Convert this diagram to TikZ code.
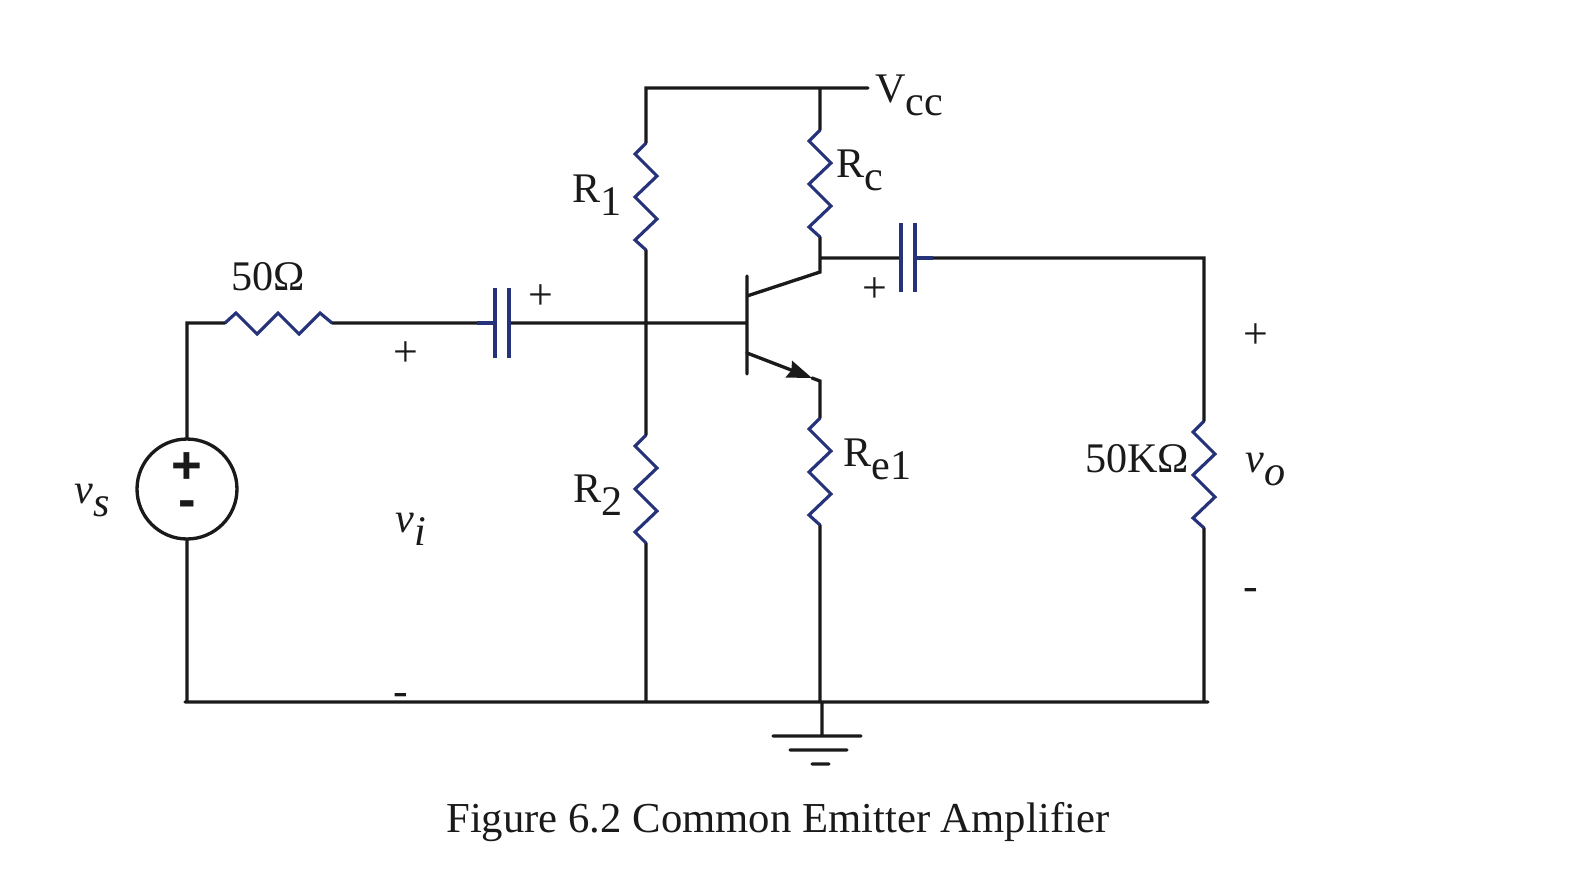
\documentclass[tikz,border=0pt]{standalone}
\usepackage{fontspec}
\setmainfont{Liberation Serif}
\newfontfamily\srcfont{Liberation Sans}
\usetikzlibrary{arrows.meta}
\definecolor{resblue}{RGB}{38,50,122}
\definecolor{inkblack}{RGB}{26,26,26}
\newcommand{\lowsub}[1]{\raisebox{-7.8pt}{#1}}
\tikzset{
	wire/.style={draw=inkblack, line width=1.9pt, line cap=round},
	plate/.style={draw=resblue, line width=1.8pt},
	resv/.style={draw=resblue, line width=1.8pt,
		to path={-- ++(-11,11) -- ++(22,22) -- ++(-22,21) -- ++(22,22) -- ++(-22,21) -- (\tikztotarget)}},
	resh/.style={draw=resblue, line width=1.8pt,
		to path={-- ++(11,-10) -- ++(21,21) -- ++(21,-21) -- ++(21,21) -- ++(21,-21) -- (\tikztotarget)}},
	label/.style={anchor=base west, inner sep=0pt, text=inkblack, font=\fontsize{24}{28}\selectfont},
	caption/.style={label, font=\fontsize{24.3}{28}\selectfont},
	sign/.style={inner sep=0pt, text=inkblack, font=\fontsize{25}{28}\selectfont},
	srcsign/.style={inner sep=0pt, text=inkblack, font=\srcfont\bfseries\fontsize{30}{34}\selectfont},
	source/.style={circle, draw=inkblack, line width=1.9pt, minimum size=2cm, inner sep=0pt}}
\begin{document}
\begin{tikzpicture}[x=0.02cm, y=-0.02cm]
		\useasboundingbox (0,0) rectangle (1586,894);
		
		%source side
		\node[source] (vsrc) at (187,489) {};
		\node[srcsign] (vplus) at (187,468) {+};
		\node[srcsign] (vminus) at (187,509) {-};
		\coordinate (tl) at (187,323);
		\coordinate (rs1) at (225,323);
		\coordinate (rs2) at (332,323);
		\coordinate (c1a) at (495,323);
		\coordinate (c1b) at (509,323);
		\coordinate (c1at) at (495,288);
		\coordinate (c1ab) at (495,358);
		\coordinate (c1bt) at (509,288);
		\coordinate (c1bb) at (509,358);
		\coordinate (c1lead) at (477,323);
		
		%bias
		\coordinate (tr1) at (646,88);
		\coordinate (tvcc) at (868,88);
		\coordinate (trc) at (820,88);
		\coordinate (r1a) at (646,143);
		\coordinate (r1b) at (646,250);
		\coordinate (r2a) at (646,435);
		\coordinate (r2b) at (646,543);
		\coordinate (b2) at (646,702);
		
		%transistor
		\coordinate (base) at (747,323);
		\coordinate (bart) at (747,276);
		\coordinate (barb) at (747,374);
		\coordinate (coli) at (747,296);
		\coordinate (colo) at (820,272);
		\coordinate (emi) at (747,353);
		\coordinate (tip) at (812,378);
		\coordinate (emo) at (820,381);
		
		%collector and emitter
		\coordinate (rca) at (820,130);
		\coordinate (rcb) at (820,237);
		\coordinate (jc) at (820,258);
		\coordinate (rea) at (820,418);
		\coordinate (reb) at (820,525);
		\coordinate (b3) at (820,702);
		
		%output
		\coordinate (c2a) at (901,258);
		\coordinate (c2b) at (915,258);
		\coordinate (c2at) at (901,223);
		\coordinate (c2ab) at (901,292);
		\coordinate (c2bt) at (915,223);
		\coordinate (c2bb) at (915,292);
		\coordinate (c2lead) at (933,258);
		\coordinate (tro) at (1204,258);
		\coordinate (rla) at (1204,421);
		\coordinate (rlb) at (1204,528);
		\coordinate (b4) at (1204,702);
		\coordinate (bl) at (185,702);
		\coordinate (br) at (1208,702);
		\coordinate (b1) at (187,702);
		
		%ground
		\coordinate (g0) at (822,702);
		\coordinate (g1) at (822,736);
		\coordinate (g1l) at (773,736);
		\coordinate (g1r) at (861,736);
		\coordinate (g2l) at (790,750);
		\coordinate (g2r) at (847,750);
		\coordinate (g3l) at (812,764);
		\coordinate (g3r) at (829,764);
		
		\draw[wire]
		(vsrc.north) -- (tl) -- (rs1)
		(rs2) -- (c1lead)
		(c1b) -- (base)
		(vsrc.south) -- (b1)
		(bl) -- (br)
		(tvcc) -- (tr1) -- (r1a)
		(r1b) -- (r2a)
		(r2b) -- (b2)
		(trc) -- (rca)
		(rcb) -- (colo) -- (coli)
		(bart) -- (barb)
		(jc) -- (c2a)
		(c2lead) -- (tro) -- (rla)
		(rlb) -- (b4)
		(tip) -- (emo) -- (rea)
		(reb) -- (b3)
		(g0) -- (g1)
		(g1l) -- (g1r)
		(g2l) -- (g2r)
		(g3l) -- (g3r);
		\draw[wire, -{Stealth[length=14pt, width=10pt, inset=1.5pt]}] (emi) -- (tip);
		
		\draw[plate]
		(c1lead) -- (c1a)
		(c1at) -- (c1ab)
		(c1bt) -- (c1bb)
		(c2b) -- (c2lead)
		(c2at) -- (c2ab)
		(c2bt) -- (c2bb);
		
		\draw[resh] (rs1) to (rs2);
		\draw[resv] (r1a) to (r1b);
		\draw[resv] (r2a) to (r2b);
		\draw[resv] (rca) to (rcb);
		\draw[resv] (rea) to (reb);
		\draw[resv] (rla) to (rlb);
		
		%labels
		\node[label] (vcc) at (875,102) {V\lowsub{cc}};
		\node[label] (rc) at (836,177) {R\lowsub{c}};
		\node[label] (r1) at (572,202) {R\lowsub{1}};
		\node[label] (r2) at (573,502) {R\lowsub{2}};
		\node[label] (re1) at (843,466) {R\lowsub{e1}};
		\node[label] (rs) at (231,290) {50Ω};
		\node[label] (rl) at (1085,472) {50KΩ};
		\node[label] (vo) at (1245,472) {\itshape v\lowsub{o}};
		\node[label] (vs) at (74,503) {\itshape v\lowsub{s}};
		\node[label] (vi) at (395,532) {\itshape v\lowsub{i}};
		\node[sign] (p1) at (406,354) {+};
		\node[sign] (p2) at (541,297) {+};
		\node[sign] (p3) at (875,290) {+};
		\node[sign] (p4) at (1256,336) {+};
		\node[sign] (m1) at (401,699) {-};
		\node[sign] (m2) at (1251,594) {-};
		\node[caption] (title) at (446,832) {Figure 6.2 Common Emitter Amplifier};
	\end{tikzpicture}
\end{document}
